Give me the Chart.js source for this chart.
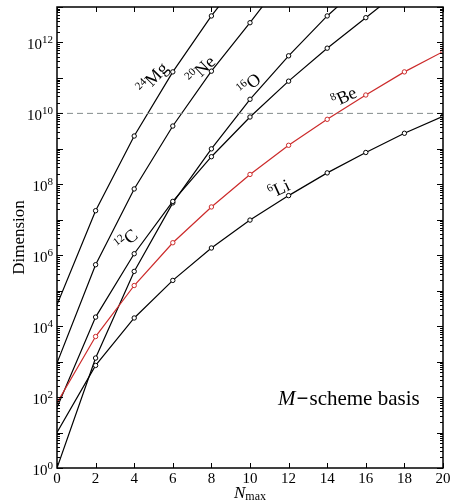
<!DOCTYPE html>
<html><head><meta charset="utf-8">
<script src="https://cdn.jsdelivr.net/npm/chart.js@4.4.0/dist/chart.umd.min.js"></script>
<style>html,body{margin:0;padding:0;background:#fff}#wrap{width:452px;height:501px}</style>
</head><body><div id="wrap"><canvas id="c" width="452" height="501"></canvas></div>
<script>
// Nmax values
const nmax = [0, 2, 4, 6, 8, 10, 12, 14, 16, 18, 20];
// M-scheme dimensions (points beyond the top continue the lines off-chart)
const li6  = [10, 780, 1.7e4, 1.95e5, 1.6e6, 9.8e6, 4.8e7, 2.1e8, 7.9e8, 2.75e9, 8.3e9];
const be8  = [68, 5.1e3, 1.4e5, 2.25e6, 2.3e7, 1.9e8, 1.26e9, 6.8e9, 3.3e10, 1.48e11, 5.5e11];
const c12  = [51, 1.8e4, 1.1e6, 3.3e7, 6.0e8, 7.9e9, 8.1e10, 6.9e11, 5.0e12, 3.6e13];
const o16  = [1, 1.26e3, 3.5e5, 3.0e7, 1.0e9, 2.5e10, 4.2e11, 5.6e12, 5.3e13];
const ne20 = [910, 5.4e5, 7.4e7, 4.4e9, 1.55e11, 3.6e12, 9.5e13];
const mg24 = [4.0e4, 1.8e7, 2.3e9, 1.48e11, 5.6e12, 1.4e14];
const limitLine = [1e10, 1e10];
const xTickValues = [0, 2, 4, 6, 8, 10, 12, 14, 16, 18, 20];
const yTickExponents = [0, 2, 4, 6, 8, 10, 12];

const SERIF = '"Liberation Serif", "DejaVu Serif", serif';
const RED = '#cc2a2a';

function pts(vals){ return vals.map((v,i)=>({x:nmax[i], y:v})); }
function ds(vals, color){
  return {
    data: pts(vals), borderColor: color, borderWidth: 1.2,
    pointRadius: c => (c.raw && c.raw.x === 0) ? 0 : 2.2,
    pointBorderWidth: 1, pointBorderColor: color, pointBackgroundColor: '#fff',
    fill: false, tension: 0
  };
}

// curve annotations: [mass, symbol, nmax position, dimension position, angle deg]
const isoLabels = [
  ['24', 'Mg', 4.95, 1.0e11, -46],
  ['20', 'Ne', 7.45, 1.7e11, -44],
  ['16', 'O',  9.95, 6.6e10, -40],
  ['8',  'Be', 14.87, 3.0e10, -25],
  ['6',  'Li', 11.5, 7.6e7, -25],
  ['12', 'C',  3.58, 2.75e6, -38]
];

const decor = {
  id: 'decor',
  afterDraw(chart){
    const ctx = chart.ctx, a = chart.chartArea;
    const xs = chart.scales.x, ys = chart.scales.y;
    ctx.save();
    // frame
    ctx.strokeStyle = '#000'; ctx.lineWidth = 1.5;
    ctx.strokeRect(a.left, a.top, a.right - a.left, a.bottom - a.top);
    ctx.lineWidth = 1;
    ctx.beginPath();
    // y ticks inside both sides
    for (let d = 0; d <= 13; d++){
      for (let k = 1; k <= 9; k++){
        const v = k * Math.pow(10, d);
        if (v > 1e13) break;
        const y = Math.round(ys.getPixelForValue(v)) + 0.5;
        const len = k === 1 ? 6 : 3;
        ctx.moveTo(a.left, y); ctx.lineTo(a.left + len, y);
        ctx.moveTo(a.right, y); ctx.lineTo(a.right - len, y);
      }
    }
    // x ticks inside top & bottom
    xTickValues.forEach(v => {
      const x = Math.round(xs.getPixelForValue(v)) + 0.5;
      ctx.moveTo(x, a.bottom); ctx.lineTo(x, a.bottom - 5);
      ctx.moveTo(x, a.top); ctx.lineTo(x, a.top + 5);
    });
    ctx.stroke();

    // y tick labels 10^n
    ctx.fillStyle = '#000';
    ctx.textBaseline = 'alphabetic';
    yTickExponents.forEach(e => {
      const y = ys.getPixelForValue(Math.pow(10, e));
      ctx.font = '11px ' + SERIF;
      const es = String(e), ew = ctx.measureText(es).width;
      ctx.font = '15px ' + SERIF;
      const bw = ctx.measureText('10').width;
      const xEnd = a.left - 4;
      ctx.textAlign = 'left';
      ctx.fillText('10', xEnd - ew - bw, y + 7);
      ctx.font = '11px ' + SERIF;
      ctx.fillText(es, xEnd - ew, y + 1);
    });

    // x axis title N_max
    ctx.font = 'italic 17px ' + SERIF;
    const nW = ctx.measureText('N').width;
    ctx.font = '12px ' + SERIF;
    const mW = ctx.measureText('max').width;
    const cx = (a.left + a.right) / 2;
    let x0 = cx - (nW + mW) / 2;
    ctx.font = 'italic 17px ' + SERIF;
    ctx.fillText('N', x0, 498);
    ctx.font = '12px ' + SERIF;
    ctx.fillText('max', x0 + nW, 500);

    // M-scheme basis
    ctx.font = 'italic 21px ' + SERIF;
    let tx = 278;
    ctx.fillText('M', tx, 405); tx += ctx.measureText('M').width + 1;
    ctx.font = 'bold 21px ' + SERIF;
    ctx.fillText('\u2212', tx, 405); tx += ctx.measureText('\u2212').width + 1;
    ctx.font = '21px ' + SERIF;
    ctx.fillText('scheme basis', tx, 405);

    // isotope labels
    isoLabels.forEach(([m, s, xv, yv, ang]) => {
      const px = xs.getPixelForValue(xv), py = ys.getPixelForValue(yv);
      ctx.save();
      ctx.translate(px, py); ctx.rotate(ang * Math.PI / 180);
      ctx.font = '11px ' + SERIF; const mw = ctx.measureText(m).width;
      ctx.font = '18px ' + SERIF; const sw = ctx.measureText(s).width;
      const left = -(mw + sw) / 2;
      ctx.font = '11px ' + SERIF; ctx.fillText(m, left, -1);
      ctx.font = '18px ' + SERIF; ctx.fillText(s, left + mw, 6);
      ctx.restore();
    });
    ctx.restore();
  }
};

new Chart(document.getElementById('c'), {
  type: 'line',
  data: {
    datasets: [
      {data: [{x:0,y:limitLine[0]},{x:20,y:limitLine[1]}], borderColor:'#858c8c', borderWidth:1, borderDash:[6,4], pointRadius:0},
      ds(li6, '#000'),
      ds(be8, RED),
      ds(c12, '#000'),
      ds(o16, '#000'),
      ds(ne20, '#000'),
      ds(mg24, '#000')
    ]
  },
  options: {
    responsive: false, animation: false, devicePixelRatio: 1,
    layout: {padding: {top: 7, right: 9, left: 0, bottom: 0}},
    plugins: {legend: {display: false}, tooltip: {enabled: false}},
    scales: {
      x: {
        type: 'linear', min: 0, max: 20,
        grid: {display: false, drawTicks: false},
        border: {display: false},
        afterBuildTicks: s => { s.ticks = xTickValues.map(v => ({value: v})); },
        afterFit: s => { s.height = 33; s.paddingLeft = 0; s.paddingRight = 0; },
        ticks: {autoSkip: false, maxRotation: 0, padding: 2, color: '#000', font: {family: SERIF, size: 15}}
      },
      y: {
        type: 'logarithmic', min: 1, max: 1e13,
        grid: {display: false, drawTicks: false},
        border: {display: false},
        ticks: {display: false},
        afterFit: s => { s.width = 57; s.paddingTop = 0; s.paddingBottom = 0; },
        title: {display: true, text: 'Dimension', color: '#000', font: {family: SERIF, size: 17}, padding: {top: 9, bottom: 0}}
      }
    }
  },
  plugins: [decor]
});
</script>
</body></html>
